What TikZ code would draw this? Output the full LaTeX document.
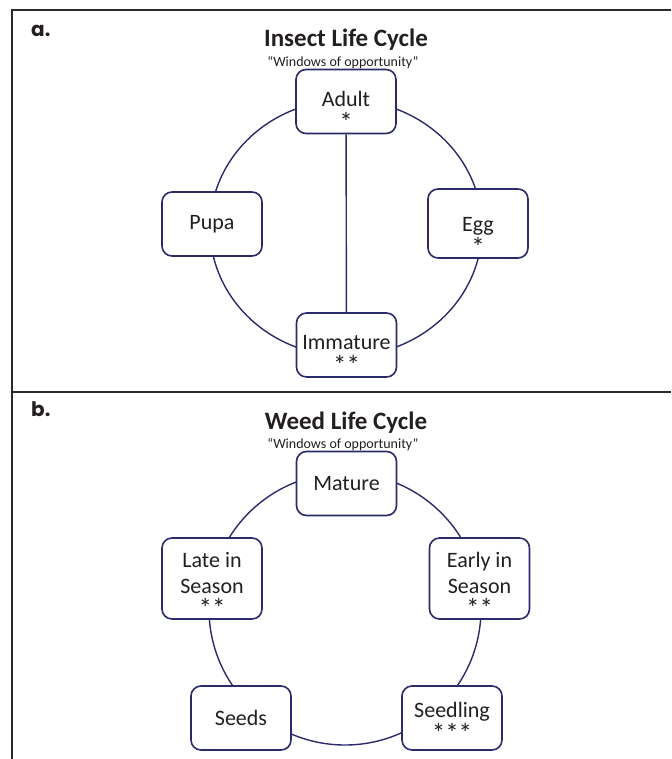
\documentclass[tikz,border=0pt]{standalone}
\usepackage{fontspec}
\setmainfont{Carlito}
\newfontfamily\tagfont{Poppins}
\usetikzlibrary{positioning}
\definecolor{ringnavy}{HTML}{2B2A6B}
\definecolor{textgray}{HTML}{231F20}
\definecolor{framegray}{HTML}{2A2A2A}
% raised asterisks under a stage name, and a strut that drops a label
\newcommand{\stars}[1]{{\fontsize{27}{26}\selectfont #1}}
\newcommand{\lift}[1]{\rule{0pt}{#1pt}}

\begin{document}
\begin{tikzpicture}[x=1pt, y=-1pt,
  stage/.style={rectangle, rounded corners=10pt, draw=ringnavy,
               line width=1.6pt, fill=white, minimum width=100pt,
               minimum height=64pt, align=center, text=textgray,
               font=\fontsize{22}{26}\selectfont, inner sep=2pt},
  ring/.style={draw=ringnavy, line width=1.4pt},
  link/.style={draw=ringnavy, line width=1.4pt},
  heading/.style={font=\fontsize{25}{28}\selectfont\bfseries, text=textgray},
  subhead/.style={font=\fontsize{14}{16}\selectfont, text=textgray},
  tag/.style={font=\tagfont\bfseries\fontsize{20}{22}\selectfont,
              text=textgray, anchor=base west, inner sep=0pt},
  panel/.style={draw=framegray, line width=1.8pt},
]
\useasboundingbox (0,0) rectangle (671,759);

% frame of the two panels
\draw[panel] (671,10) -- (12,10) -- (12,759);
\draw[panel] (12,392) -- (671,392);

% a. insect
\node[tag] (taga) at (31,37) {a.};
\node[heading] (insect) at (346,40) {Insect Life Cycle};
\node[subhead] (insectsub) at (343,63) {“Windows of opportunity”};

\draw[ring] (346,228) ellipse [x radius=136pt, y radius=128pt];

\node[stage] (adult) at (346,101.5) {\lift{35}Adult\\[-1pt]\stars{*}};
\node[stage] (pupa)  at (212,224)   {Pupa};
\node[stage] (egg)   at (478,223.5) {\lift{40}Egg\\[-1pt]\stars{*}};
\node[stage] (imm)   at (346.5,345) {\lift{33}Immature\\[-1pt]\stars{**}};

\draw[link] (adult) -- (imm);

% b. weed
\node[tag] (tagb) at (31,416) {b.};
\node[heading] (weed) at (346,423) {Weed Life Cycle};
\node[subhead] (weedsub) at (343,445) {“Windows of opportunity”};

\draw[ring] (345,609) circle [radius=136pt];

\node[stage] (mature)   at (346.5,483.5) {Mature};
\node[stage] (late)     at (212,578.5)   {\lift{27}Late in\\Season\\[-2pt]\stars{**}};
\node[stage] (early)    at (479.5,578.5) {\lift{27}Early in\\Season\\[-2pt]\stars{**}};
\node[stage] (seeds)    at (241,718)     {Seeds};
\node[stage] (seedling) at (452,718)     {\lift{24}Seedling\\[-1pt]\stars{***}};
\end{tikzpicture}
\end{document}
